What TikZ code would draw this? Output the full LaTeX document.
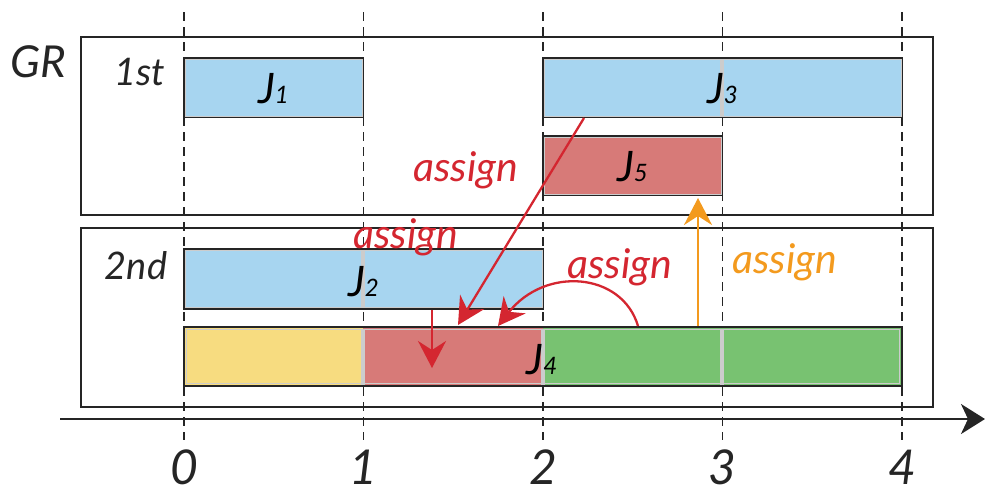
\documentclass[tikz,border=0pt]{standalone}
\usepackage{fontspec}
\setmainfont{Lato}
\usetikzlibrary{arrows.meta}
\definecolor{jblue}{HTML}{A7D5F0}
\definecolor{jred}{HTML}{D77A78}
\definecolor{jyellow}{HTML}{F7DC80}
\definecolor{jgreen}{HTML}{78C271}
\definecolor{boxline}{HTML}{252525}
\definecolor{ared}{HTML}{D42630}
\definecolor{aorange}{HTML}{F39A1E}
\definecolor{sepgray}{HTML}{CCCCCC}
\newcommand{\jlab}[1]{\fontsize{42}{42}\selectfont\itshape J{\fontsize{24}{24}\selectfont #1}}
\tikzset{
  jbox/.style={draw=boxline, line width=2.8pt, inner sep=0pt, minimum height=59pt},
  grpbox/.style={draw=boxline, line width=1.7pt, inner sep=0pt},
  sepline/.style={draw=sepgray, line width=3.5pt},
  innerline/.style={draw=sepgray, line width=1.0pt},
  guide/.style={draw=boxline, line width=1.2pt, dash pattern=on 9pt off 6pt},
  redarrow/.style={draw=ared, line width=2.3pt, -{Stealth[length=27pt,width=28pt,inset=9pt]}},
  orangearrow/.style={draw=aorange, line width=2.5pt, -{Stealth[length=27pt,width=28pt,inset=9pt]}},
  assignlab/.style={font=\fontsize{41}{41}\selectfont\itshape, inner sep=0pt},
  rowlab/.style={font=\fontsize{38}{38}\selectfont\itshape, text=boxline, inner sep=0pt},
  ticklab/.style={font=\fontsize{48}{48}\selectfont\itshape, text=boxline, inner sep=0pt}
}
\begin{document}
\begin{tikzpicture}[x=1pt,y=-1pt]
\useasboundingbox (0,0) rectangle (985,491);

% group boxes
\node[grpbox, minimum width=852pt, minimum height=178pt] (G1) at (507,126) {};
\node[grpbox, minimum width=852pt, minimum height=179pt] (G2) at (507,317.5) {};

% guides
\foreach \i in {0,...,4} {
  \draw[guide] (184+179.5*\i,12) -- (184+179.5*\i,440);
}

% labels
\node[font=\fontsize{44}{44}\selectfont\itshape, text=boxline, inner sep=0pt] (GR) at (38,62) {GR};
\node[rowlab] (first) at (140,72) {1st};
\node[rowlab] (second) at (136,266) {2nd};

% J1
\node[jbox, fill=jblue, minimum width=179pt] (J1) at (273.5,87.5) {};
\draw[innerline] ([shift={(2.4pt,-2.4pt)}]J1.north west) rectangle ([shift={(-2.4pt,2.4pt)}]J1.south east);
\node[inner sep=0pt] (J1l) at ([yshift=-1pt]J1.center) {\jlab{1}};

% J3
\node[jbox, fill=jblue, minimum width=359pt] (J3) at (722.5,87.5) {};
\draw[innerline] ([shift={(2.4pt,-2.4pt)}]J3.north west) rectangle ([shift={(-2.4pt,2.4pt)}]J3.south east);
\draw[sepline] (722,59.5) -- (722,115.5);
\node[inner sep=0pt] (J3l) at ([yshift=-1pt]J3.center) {\jlab{3}};

% J5
\node[jbox, fill=jred, minimum width=179pt] (J5) at (632.5,165.5) {};
\draw[innerline] ([shift={(2.4pt,-2.4pt)}]J5.north west) rectangle ([shift={(-2.4pt,2.4pt)}]J5.south east);
\node[inner sep=0pt] (J5l) at ([yshift=-1pt]J5.center) {\jlab{5}};

% J2
\node[jbox, fill=jblue, minimum width=359pt] (J2) at (363.5,279) {};
\draw[innerline] ([shift={(2.4pt,-2.4pt)}]J2.north west) rectangle ([shift={(-2.4pt,2.4pt)}]J2.south east);
\draw[sepline] (363,250.5) -- (363,307.5);
\node[inner sep=0pt] (J2l) at ([yshift=-3pt]J2.center) {\jlab{2}};

% J4 bar
\fill[jyellow] (184,327) rectangle (363,386);
\fill[jred] (363,327) rectangle (543,386);
\fill[jgreen] (543,327) rectangle (902,386);
\draw[innerline] (186.4,329.4) rectangle (899.6,383.6);
\draw[sepline] (363,328.5) -- (363,384.5);
\draw[sepline] (543,328.5) -- (543,384.5);
\draw[sepline] (722,328.5) -- (722,384.5);
\node[jbox, minimum width=718pt] (J4) at (543,356.5) {};
\node[inner sep=0pt] (J4l) at ([xshift=-1pt,yshift=-3pt]J4.center) {\jlab{4}};

% axis
\coordinate (ax0) at (60,419);
\coordinate (ax1) at (985,419);
\draw[draw=boxline, line width=2.4pt, -{Stealth[length=24pt,width=30pt,inset=7pt]}] (ax0) -- (ax1);
\foreach \i in {0,...,4} {
  \node[ticklab] (t\i) at (184+179.5*\i,467) {\i};
}

% arrows
\coordinate (a1s) at (584,118);
\coordinate (a1e) at (458,325);
\coordinate (a2s) at (432,310);
\coordinate (a2e) at (432,368);
\coordinate (a3s) at (638,326);
\coordinate (a3e) at (498,326);
\coordinate (a4s) at (698,326);
\coordinate (a4e) at (698,198);
\draw[redarrow] (a1s) -- (a1e);
\draw[redarrow] (a2s) -- (a2e);
\draw[redarrow] (a3s) .. controls (622,272) and (545,266) .. (a3e);
\draw[orangearrow] (a4s) -- (a4e);

% assign labels
\node[assignlab, text=ared] (as1) at (466,170) {assign};
\node[assignlab, text=ared] (as2) at (406,237) {assign};
\node[assignlab, text=ared] (as3) at (620,267) {assign};
\node[assignlab, text=aorange] (as4) at (785,262) {assign};
\end{tikzpicture}
\end{document}
